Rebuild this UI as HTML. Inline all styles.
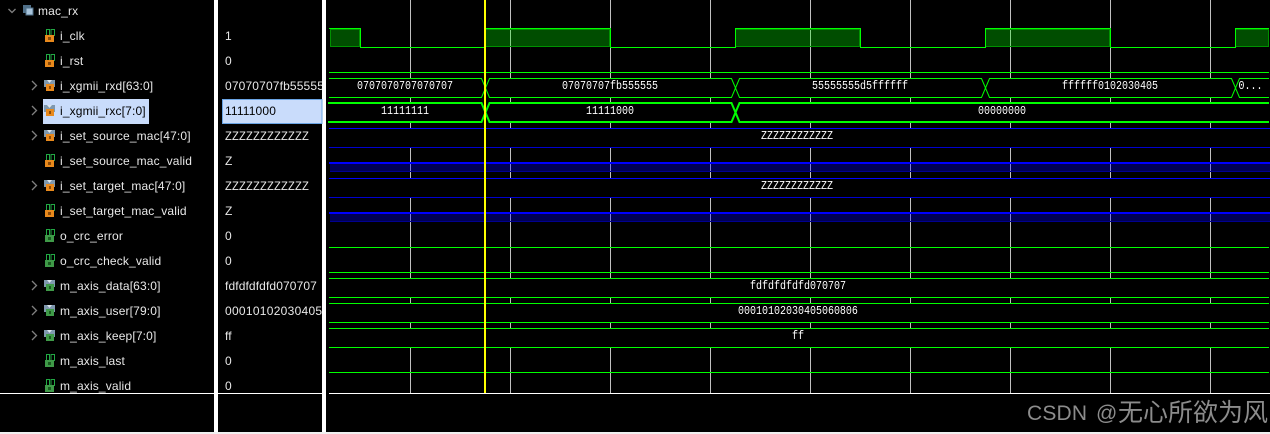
<!DOCTYPE html>
<html><head><meta charset="utf-8"><style>
html,body{margin:0;padding:0;background:#000;width:1270px;height:434px;overflow:hidden}
svg{display:block}
.n{font:12px "Liberation Sans",sans-serif;fill:#e8e8e8;letter-spacing:.15px}
.w{font:10px "Liberation Mono",monospace;fill:#fff;text-anchor:middle}
</style></head><body>
<svg width="1270" height="434" viewBox="0 0 1270 434" xmlns="http://www.w3.org/2000/svg">
<defs>
<g id="bi"><path d="M1.500 6V-.5H4.500V6M6 6V-.5H9.500V6" fill="none" stroke="#22a844"/><rect x="0" y="5" width="9" height="7" fill="#e8891c"/><rect x="3" y="7" width="3" height="3" fill="#8a4a08"/></g>
<g id="bo"><path d="M1.500 6V-.5H4.500V6M6 6V-.5H9.500V6" fill="none" stroke="#22a844"/><rect x="0" y="5" width="9" height="7" fill="#3f9a48"/><rect x="3" y="7" width="3" height="3" fill="#1a5a20"/></g>
<g id="vi"><path d="M0 0H11V7H0Z" fill="#7f98ae"/><path d="M3 0L5.500 3L8 0Z" fill="#dce6ee"/><rect x="2" y="4" width="8" height="7" fill="#e8891c"/><rect x="5" y="6" width="2" height="3" fill="#8a4a08"/></g>
<g id="vo"><path d="M0 0H11V7H0Z" fill="#7f98ae"/><path d="M3 0L5.500 3L8 0Z" fill="#dce6ee"/><rect x="2" y="4" width="8" height="7" fill="#3f9a48"/><rect x="5" y="6" width="2" height="3" fill="#1a5a20"/></g>
<path id="ch" d="M0 0L4.500 4.500L0 9" fill="none" stroke="#808080" stroke-width="1.300"/>
</defs>
<rect width="1270" height="434" fill="#000"/>

<!-- grid -->
<g fill="#c0c0c0">
<rect x="410" y="0" width="1" height="393"/><rect x="510" y="0" width="1" height="393"/><rect x="610" y="0" width="1" height="393"/>
<rect x="710" y="0" width="1" height="393"/><rect x="810" y="0" width="1" height="393"/><rect x="910" y="0" width="1" height="393"/>
<rect x="1010" y="0" width="1" height="393"/><rect x="1110" y="0" width="1" height="393"/><rect x="1210" y="0" width="1" height="393"/>
</g>
<!-- bus interiors hide grid -->
<g fill="#000">
<rect x="329" y="78" width="941" height="20"/><rect x="329" y="102" width="941" height="21"/>
<rect x="329" y="128" width="941" height="20"/><rect x="329" y="178" width="941" height="20"/>
<rect x="329" y="278" width="941" height="20"/><rect x="329" y="303" width="941" height="20"/><rect x="329" y="328" width="941" height="20"/>
</g>

<!-- clock -->
<g fill="#00ff00" fill-opacity=".3" stroke="#009000" shape-rendering="crispEdges">
<rect x="330.500" y="29.500" width="29" height="17"/><rect x="485.500" y="29.500" width="124" height="17"/>
<rect x="735.500" y="29.500" width="124" height="17"/><rect x="985.500" y="29.500" width="124" height="17"/><rect x="1235.500" y="29.500" width="33" height="17"/>
</g>
<g fill="none" stroke="#00ff00" shape-rendering="crispEdges">
<path d="M329 28.500H360.500V47.500H485.500V28.500H610.500V47.500H735.500V28.500H860.500V47.500H985.500V28.500H1110.500V47.500H1235.500V28.500H1269"/>
<!-- single low lines -->
<path d="M329 72.500H1269M329 247.500H1269M329 272.500H1269M329 372.500H1269"/>
<!-- buses plain -->
<path d="M329 278.500H1269M329 297.500H1269M329 303.500H1269M329 322.500H1269M329 328.500H1269M329 347.500H1269"/>
</g>
<!-- rxd bus -->
<g fill="none" stroke="#00ff00">
<path d="M329 78.500H481.500L489.500 97.500H731.500L739.500 78.500H981.500L989.500 97.500H1231.500L1239.500 78.500H1269"/>
<path d="M329 97.500H481.500L489.500 78.500H731.500L739.500 97.500H981.500L989.500 78.500H1231.500L1239.500 97.500H1269"/>
<path stroke-width="2" d="M328 103H481.500L489.500 122H731.500L739.500 103H1269"/>
<path stroke-width="2" d="M328 122H481.500L489.500 103H731.500L739.500 122H1269"/>
</g>
<!-- Z buses -->
<g fill="#0000ff" shape-rendering="crispEdges">
<rect x="329" y="128" width="941" height="1"/><rect x="329" y="147" width="941" height="1" fill="#0000d0"/>
<rect x="329" y="178" width="941" height="1"/><rect x="329" y="197" width="941" height="1" fill="#0000d0"/>
<rect x="329" y="162" width="941" height="2"/><rect x="329" y="212" width="941" height="2"/>
<rect x="330" y="164" width="940" height="8" fill-opacity=".33"/><rect x="330" y="214" width="940" height="8" fill-opacity=".33"/>
<rect x="330" y="171" width="940" height="1" fill="#000090"/><rect x="330" y="221" width="940" height="1" fill="#000090"/>
</g>

<!-- wave labels -->
<g transform="scale(1,1.2)">
<text class="w" x="405" y="74.170">0707070707070707</text>
<text class="w" x="610" y="74.170">07070707fb555555</text>
<text class="w" x="860" y="74.170">55555555d5ffffff</text>
<text class="w" x="1110" y="74.170">ffffff0102030405</text>
<text class="w" x="1250.500" y="74.170">0...</text>
<text class="w" x="405" y="95">11111111</text>
<text class="w" x="610" y="95">11111000</text>
<text class="w" x="1002" y="95">00000000</text>
<text class="w" x="797" y="115.830">ZZZZZZZZZZZZ</text>
<text class="w" x="797" y="157.500">ZZZZZZZZZZZZ</text>
<text class="w" x="798" y="240.830">fdfdfdfdfd070707</text>
<text class="w" x="798" y="261.670">00010102030405060806</text>
<text class="w" x="798" y="282.500">ff</text>
</g>

<!-- cursor -->
<rect x="484" y="0" width="2" height="393" fill="#ffff00"/>

<!-- separators -->
<rect x="214" y="0" width="4" height="434" fill="#fff"/>
<rect x="322" y="0" width="4" height="434" fill="#fff"/>
<rect x="0" y="393" width="214" height="1" fill="#fff"/>
<rect x="218" y="393" width="104" height="1" fill="#fff"/>
<rect x="329" y="393" width="941" height="1" fill="#fff"/>
<rect x="0" y="432" width="1270" height="2" fill="#f0f0f0"/>

<!-- highlight -->
<rect x="43" y="99" width="106" height="25" fill="#c9dcfb"/>
<rect x="222.500" y="99.500" width="99.500" height="24" fill="#c9dcfb" stroke="#6aa4e4"/>

<!-- tree -->
<path d="M8.500 9L12 12.500L15.500 9" fill="none" stroke="#808080" stroke-width="1.300"/>
<rect x="23" y="5" width="8" height="8" fill="#4f6f88"/><rect x="26" y="8" width="7" height="7" fill="#a8c4dc" stroke="#4f6f88"/>
<text class="n" x="38" y="15">mac_rx</text>

<use href="#bi" x="45" y="30"/><text class="n" x="60" y="40">i_clk</text>
<use href="#bi" x="45" y="55"/><text class="n" x="60" y="65">i_rst</text>
<use href="#ch" x="32" y="81"/><use href="#vi" x="44" y="80"/><text class="n" x="60" y="90">i_xgmii_rxd[63:0]</text>
<use href="#ch" x="32" y="106"/><use href="#vi" x="44" y="105"/><text class="n" x="60" y="115" style="fill:#000">i_xgmii_rxc[7:0]</text>
<use href="#ch" x="32" y="131"/><use href="#vi" x="44" y="130"/><text class="n" x="60" y="140">i_set_source_mac[47:0]</text>
<use href="#bi" x="45" y="155"/><text class="n" x="60" y="165">i_set_source_mac_valid</text>
<use href="#ch" x="32" y="181"/><use href="#vi" x="44" y="180"/><text class="n" x="60" y="190">i_set_target_mac[47:0]</text>
<use href="#bi" x="45" y="205"/><text class="n" x="60" y="215">i_set_target_mac_valid</text>
<use href="#bo" x="45" y="230"/><text class="n" x="60" y="240">o_crc_error</text>
<use href="#bo" x="45" y="255"/><text class="n" x="60" y="265">o_crc_check_valid</text>
<use href="#ch" x="32" y="281"/><use href="#vo" x="44" y="280"/><text class="n" x="60" y="290">m_axis_data[63:0]</text>
<use href="#ch" x="32" y="306"/><use href="#vo" x="44" y="305"/><text class="n" x="60" y="315">m_axis_user[79:0]</text>
<use href="#ch" x="32" y="331"/><use href="#vo" x="44" y="330"/><text class="n" x="60" y="340">m_axis_keep[7:0]</text>
<use href="#bo" x="45" y="355"/><text class="n" x="60" y="365">m_axis_last</text>
<use href="#bo" x="45" y="380"/><text class="n" x="60" y="390">m_axis_valid</text>

<!-- values -->
<svg x="218" y="0" width="104" height="393" viewBox="218 0 104 393">
<text class="n" x="225" y="40">1</text>
<text class="n" x="225" y="65">0</text>
<text class="n" x="225" y="90">07070707fb555555</text>
<text class="n" x="225" y="115" style="fill:#000">11111000</text>
<text class="n" x="225" y="140" textLength="84" lengthAdjust="spacingAndGlyphs">ZZZZZZZZZZZZ</text>
<text class="n" x="225" y="165">Z</text>
<text class="n" x="225" y="190" textLength="84" lengthAdjust="spacingAndGlyphs">ZZZZZZZZZZZZ</text>
<text class="n" x="225" y="215">Z</text>
<text class="n" x="225" y="240">0</text>
<text class="n" x="225" y="265">0</text>
<text class="n" x="225" y="290" textLength="92">fdfdfdfdfd070707</text>
<text class="n" x="225" y="315" textLength="139">00010102030405060806</text>
<text class="n" x="225" y="340">ff</text>
<text class="n" x="225" y="365">0</text>
<text class="n" x="225" y="390">0</text>
</svg>

<!-- watermark -->
<text x="1027" y="420" font-family="Liberation Sans, sans-serif" font-size="21" textLength="60" fill="#8c8c8c">CSDN</text>
<text x="1096" y="420" font-family="Liberation Sans, sans-serif" font-size="21" fill="#8c8c8c">@</text>
<text x="1118" y="421" font-family="Liberation Sans, Noto Sans CJK SC, sans-serif" font-size="25" fill="#8c8c8c">无心所欲为风</text>
</svg>
</body></html>
